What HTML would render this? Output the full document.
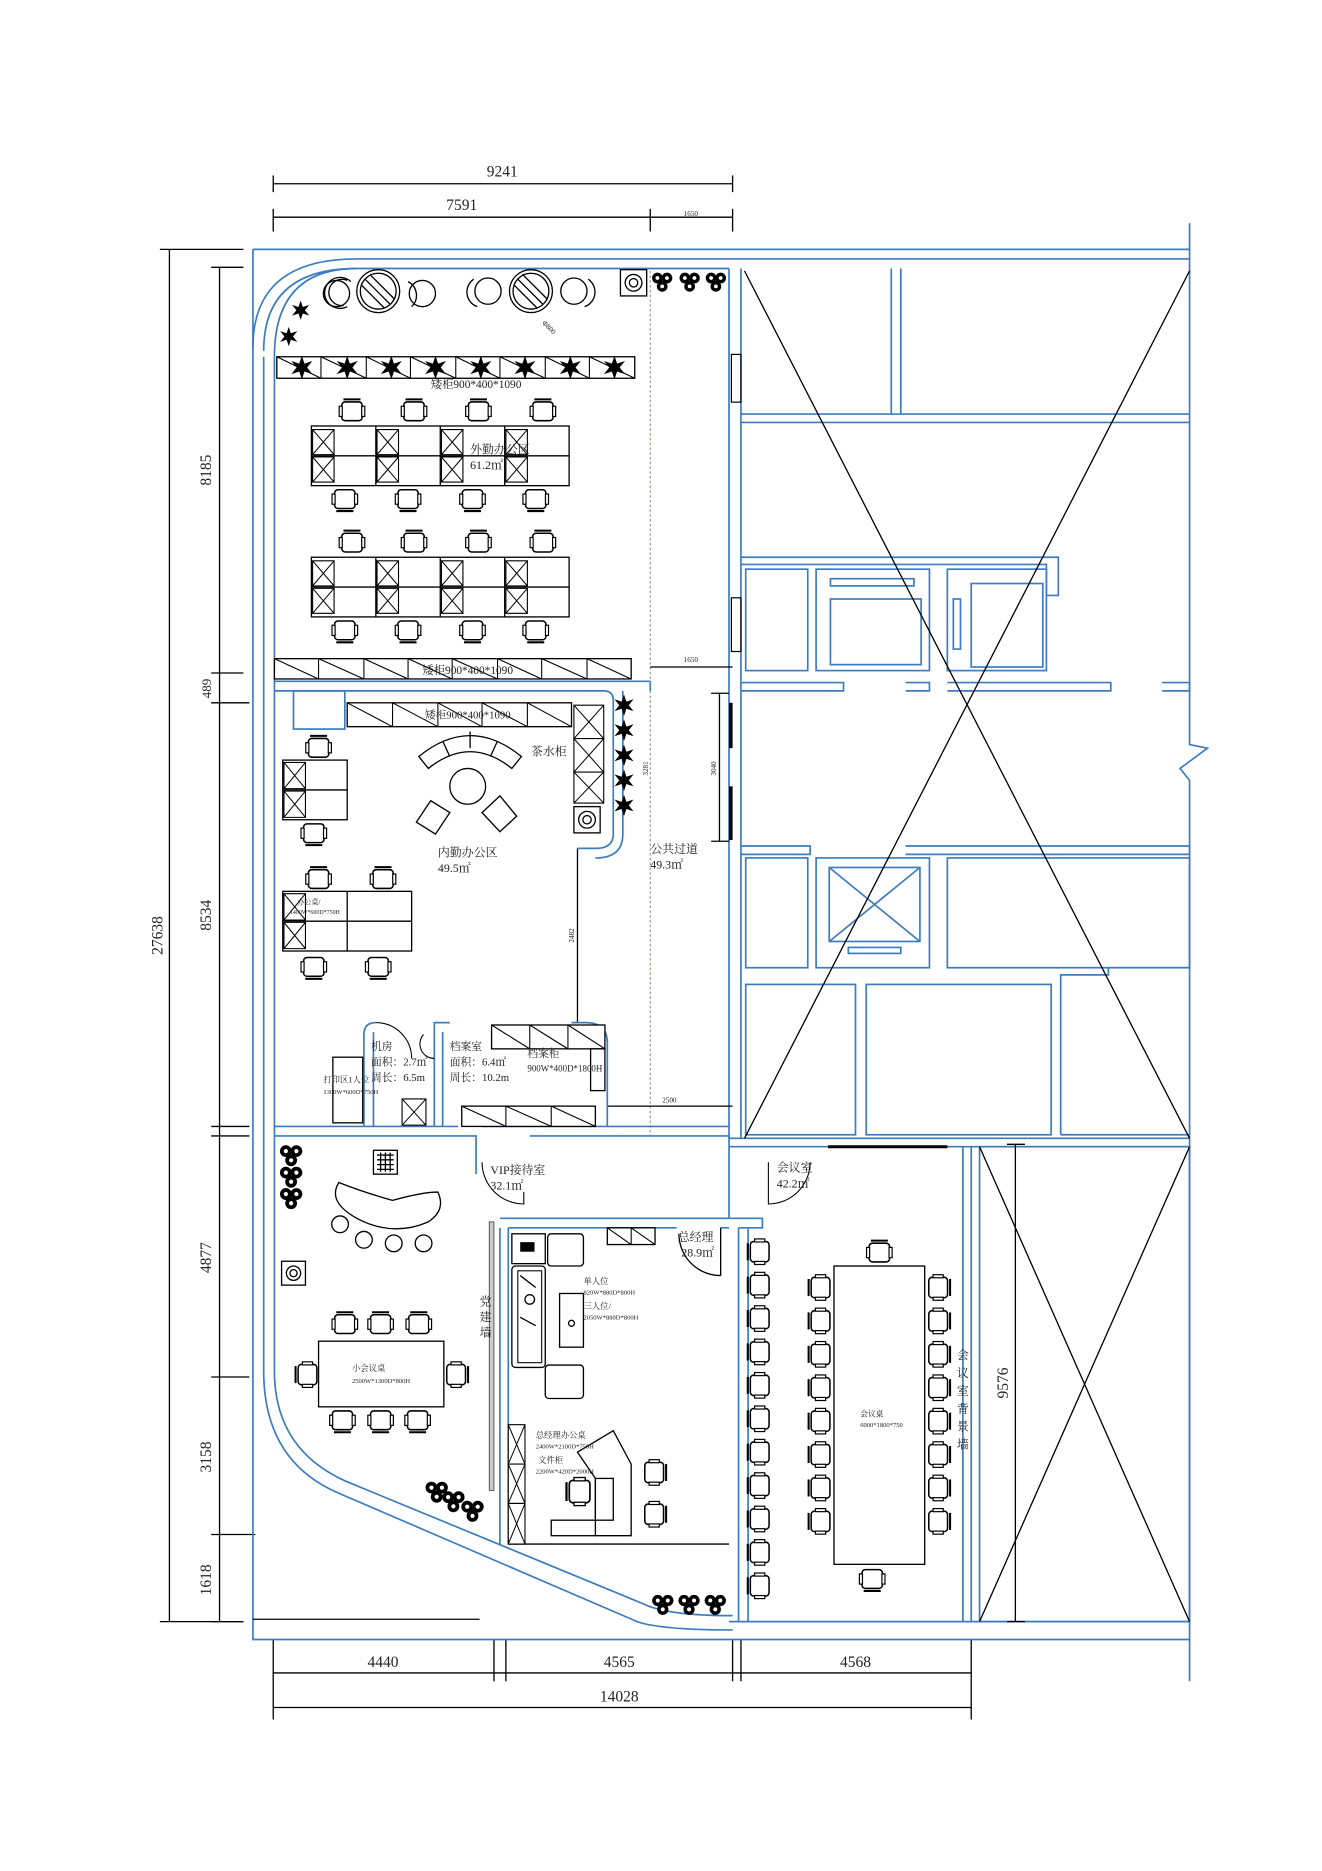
<!DOCTYPE html>
<html><head><meta charset="utf-8"><style>
html,body{margin:0;padding:0;background:#fff;}
svg{display:block;}
text{font-family:"Liberation Serif","Noto Serif CJK SC",serif;fill:#222;}
.b{fill:none;stroke:#3b7cc0;stroke-width:1.4;}
.k{fill:none;stroke:#000;stroke-width:1.1;}
.d{fill:none;stroke:#000;stroke-width:0.9;}
.f{fill:#fff;stroke:#000;stroke-width:1.1;}
</style></head><body>
<svg width="1322" height="1871" viewBox="1 1 1108 1568" preserveAspectRatio="none" xmlns="http://www.w3.org/2000/svg">
<defs>
<symbol id="ch" viewBox="-7 -7 14 14" overflow="visible">
<rect x="-6" y="-5" width="12" height="11" rx="2" fill="#fff" stroke="#000" stroke-width="0.9"/>
<rect x="-7.5" y="-2.5" width="1.8" height="6" fill="#fff" stroke="#000" stroke-width="0.7"/>
<rect x="5.7" y="-2.5" width="1.8" height="6" fill="#fff" stroke="#000" stroke-width="0.7"/>
<line x1="-5" y1="-6.5" x2="5" y2="-6.5" stroke="#000" stroke-width="1.2"/>
</symbol>
<symbol id="st" viewBox="-10 -10 20 20" overflow="visible">
<path d="M0,-9 L2,-3 L8,-5 L4,0 L8,5 L2,3 L0,9 L-2,3 L-8,5 L-4,0 L-8,-5 L-2,-3Z" fill="#000"/>
</symbol>
<symbol id="fl" viewBox="-10 -10 20 20" overflow="visible">
<circle cx="-4" cy="-3" r="4.5" fill="#000"/><circle cx="4" cy="-3" r="4.5" fill="#000"/><circle cx="0" cy="4" r="4.5" fill="#000"/>
<circle cx="-4" cy="-3" r="1.6" fill="#fff"/><circle cx="4" cy="-3" r="1.6" fill="#fff"/><circle cx="0" cy="4" r="1.6" fill="#fff"/>
</symbol>
<symbol id="xb" viewBox="0 0 10 10" preserveAspectRatio="none" overflow="visible">
<rect x="0" y="0" width="10" height="10" fill="#fff" stroke="#000" stroke-width="1.1" vector-effect="non-scaling-stroke"/>
<path d="M0,0L10,10M10,0L0,10" stroke="#000" stroke-width="1" vector-effect="non-scaling-stroke"/>
</symbol>
</defs>

<!-- dimensions top -->
<g class="k">
<line x1="230" y1="155" x2="615" y2="155"/><line x1="230" y1="148" x2="230" y2="162"/><line x1="615" y1="148" x2="615" y2="162"/>
<line x1="230" y1="183" x2="615" y2="183"/><line x1="230" y1="176" x2="230" y2="195"/><line x1="546" y1="176" x2="546" y2="195"/><line x1="615" y1="176" x2="615" y2="195"/>
</g>
<text x="422" y="149" font-size="13" text-anchor="middle">9241</text>
<text x="388" y="177" font-size="13" text-anchor="middle">7591</text>
<text x="580" y="182" font-size="6" text-anchor="middle">1650</text>

<!-- left dims -->
<g class="k">
<line x1="143" y1="210" x2="143" y2="1360"/><line x1="135" y1="210" x2="205" y2="210"/><line x1="135" y1="1360" x2="205" y2="1360"/>
<line x1="185" y1="225" x2="185" y2="1360"/>
<line x1="178" y1="225" x2="205" y2="225"/><line x1="178" y1="565" x2="205" y2="565"/><line x1="178" y1="590" x2="210" y2="590"/>
<line x1="178" y1="945" x2="210" y2="945"/><line x1="178" y1="953" x2="210" y2="953"/><line x1="178" y1="1155" x2="210" y2="1155"/>
<line x1="178" y1="1287" x2="215" y2="1287"/><line x1="178" y1="1360" x2="205" y2="1360"/>
</g>
<g font-size="13">
<text transform="translate(137,785) rotate(-90)" text-anchor="middle">27638</text>
<text transform="translate(178,395) rotate(-90)" text-anchor="middle">8185</text>
<text transform="translate(178,578) rotate(-90)" text-anchor="middle" font-size="11">489</text>
<text transform="translate(178,768) rotate(-90)" text-anchor="middle">8534</text>
<text transform="translate(178,1055) rotate(-90)" text-anchor="middle">4877</text>
<text transform="translate(178,1222) rotate(-90)" text-anchor="middle">3158</text>
<text transform="translate(178,1325) rotate(-90)" text-anchor="middle">1618</text>
</g>

<!-- bottom dims -->
<g class="k">
<line x1="230" y1="1403" x2="815" y2="1403"/>
<line x1="230" y1="1375" x2="230" y2="1442"/><line x1="415" y1="1375" x2="415" y2="1410"/><line x1="425" y1="1375" x2="425" y2="1410"/>
<line x1="615" y1="1375" x2="615" y2="1410"/><line x1="622" y1="1375" x2="622" y2="1410"/><line x1="815" y1="1375" x2="815" y2="1442"/>
<line x1="230" y1="1432" x2="815" y2="1432"/>
</g>
<text x="322" y="1398" font-size="13" text-anchor="middle">4440</text>
<text x="520" y="1398" font-size="13" text-anchor="middle">4565</text>
<text x="718" y="1398" font-size="13" text-anchor="middle">4568</text>
<text x="520" y="1427" font-size="13" text-anchor="middle">14028</text>

<!-- outer walls -->
<g class="b">
<path d="M213,210 L998,210 M213,210 L213,1375 L998,1375"/>
<path d="M213,292 Q213,218 300,218 L998,218"/>
<path d="M222,295 Q222,226 300,226"/>
<path d="M231,300 Q231,226 300,226 L612,226"/>
<path d="M998,188 L998,625 L1013,628 L990,645 L998,655 L998,1410"/>
<path d="M231,300 L231,1150 Q231,1215 290,1242 L540,1345 Q560,1355 615,1355"/>
<path d="M222,300 L222,1150 Q222,1225 284,1252 L535,1360 Q555,1367 615,1367"/>
</g>
<line x1="213" y1="1358" x2="403" y2="1358" class="k"/>

<!-- central column walls -->
<g class="b">
<path d="M612,226 L612,955 M622,226 L622,955"/>
<path d="M622,348 L998,348 M622,355 L998,355"/>
<path d="M748,226 L748,348 M756,226 L756,348"/>
<path d="M622,468 L888,468 L888,500 L878,500 L878,474 L622,474"/>
<rect x="626" y="478" width="52" height="85"/>
<rect x="685" y="478" width="95" height="85"/>
<rect x="795" y="478" width="83" height="85"/>
<rect x="697" y="486" width="70" height="6"/>
<rect x="697" y="503" width="76" height="55"/>
<rect x="800" y="503" width="6" height="42"/>
<rect x="815" y="490" width="60" height="70"/>
<path d="M622,573 L708,573 L708,580 L622,580 M760,573 L780,573 L780,580 L760,580 M795,573 L932,573 L932,580 L795,580 M975,573 L998,573 L998,580 L975,580"/>
<path d="M622,710 L680,710 L680,717 L622,717 M760,710 L998,710 L998,717 L760,717"/>
<rect x="626" y="720" width="52" height="92"/>
<rect x="685" y="720" width="95" height="92"/>
<rect x="696" y="728" width="76" height="62"/>
<path d="M696,728 L772,790 M772,728 L696,790"/>
<rect x="712" y="795" width="44" height="5"/>
<rect x="795" y="720" width="203" height="92"/>
<rect x="626" y="826" width="92" height="126"/>
<rect x="727" y="826" width="155" height="126"/>
<path d="M890,952 L890,818 L930,818 L930,812 L998,812 M890,952 L998,952"/>
<path d="M612,955 L998,955 M612,962 L998,962"/>
</g>
<line x1="695" y1="962" x2="795" y2="962" stroke="#000" stroke-width="2.5"/>
<!-- big X -->
<path class="k" d="M625,228 L998,955 M998,228 L625,955"/>
<g fill="#000">
<rect x="614" y="298" width="8" height="40" fill="none" stroke="#000"/>
<rect x="614" y="502" width="8" height="45" fill="none" stroke="#000"/>
<rect x="612" y="590" width="3" height="38"/>
<rect x="612" y="660" width="3" height="45"/>
</g>

<!-- lower right -->
<g class="b">
<rect x="822" y="962" width="176" height="398"/>
<path d="M808,962 L808,1360 M815,962 L815,1360"/>
<path d="M612,1360 L998,1360"/>
<path d="M620,1030 L620,1360 M628,1030 L628,1360"/>
<path d="M612,962 L612,1022 L570,1022 M620,1030 L640,1030 L640,1022 L612,1022"/>
</g>
<path class="k" d="M822,962 L998,1360 M998,962 L822,1360"/>
<g class="k"><line x1="852" y1="960" x2="852" y2="1360"/><line x1="845" y1="960" x2="860" y2="960"/><line x1="845" y1="1360" x2="860" y2="1360"/></g>
<text transform="translate(846,1160) rotate(-90)" font-size="13" text-anchor="middle">9576</text>

<!-- meeting room -->
<path class="d" d="M680,975 A35,35 0 0 1 645,1010 L645,975"/>
<text x="652" y="983" font-size="10">会议室</text><text x="652" y="996" font-size="10">42.2㎡</text>
<rect x="700" y="1062" width="76" height="250" class="f"/>
<text x="722" y="1188" font-size="6.5">会议桌</text><text x="722" y="1197" font-size="5.5">6000*1800*750</text>
<g font-size="10"><text x="803" y="1140">会</text><text x="803" y="1155">议</text><text x="803" y="1170">室</text><text x="803" y="1185">背</text><text x="803" y="1200">景</text><text x="803" y="1215">墙</text></g>

<!-- corridor -->
<line x1="546" y1="228" x2="546" y2="953" stroke="#998" stroke-width="1" stroke-dasharray="2,2"/>
<path d="M510,953 L546,953" stroke="#998" stroke-dasharray="2,2"/>
<g class="k">
<line x1="546" y1="560" x2="615" y2="560"/><line x1="604" y1="582" x2="604" y2="706"/><line x1="597" y1="582" x2="612" y2="582"/><line x1="597" y1="706" x2="612" y2="706"/>
<line x1="510" y1="928" x2="615" y2="928"/><line x1="485" y1="712" x2="485" y2="858"/>
</g>
<text x="580" y="556" font-size="6" text-anchor="middle">1650</text>
<text transform="translate(601,645) rotate(-90)" font-size="6" text-anchor="middle">3040</text>
<text x="562" y="925" font-size="6" text-anchor="middle">2500</text>
<text transform="translate(482,785) rotate(-90)" font-size="6" text-anchor="middle">2482</text>
<text transform="translate(544,645) rotate(-90)" font-size="6" text-anchor="middle">3281</text>
<text x="546" y="716" font-size="10">公共过道</text><text x="546" y="729" font-size="10">49.3㎡</text>

<!-- top area -->
<g class="k">
<circle cx="318" cy="245" r="18"/><circle cx="318" cy="245" r="15"/>
<path d="M307,235 L328,256 M311,231 L332,252 M304,240 L323,259" />
<circle cx="446" cy="245" r="18"/><circle cx="446" cy="245" r="15"/>
<path d="M435,235 L456,256 M439,231 L460,252 M432,240 L451,259"/>
<path d="M295,237 A13,13 0 1 0 292,258 M292,236 A11,11 0 1 0 289,257"/>
<circle cx="283" cy="247" r="11"/><circle cx="355" cy="247" r="11"/><circle cx="410" cy="245" r="11"/><circle cx="482" cy="245" r="11"/>
<path d="M343,237 A13,13 0 0 1 346,258 M398,235 A13,13 0 0 0 401,258 M494,235 A13,13 0 0 1 491,258"/>
<rect x="521" y="227" width="22" height="22"/><circle cx="532" cy="238" r="7"/><circle cx="532" cy="238" r="3.5"/>
</g>
<text x="455" y="272" font-size="6" transform="rotate(45,455,272)">Φ800</text>
<use href="#fl" x="546" y="227" width="20" height="20"/><use href="#fl" x="569" y="227" width="20" height="20"/><use href="#fl" x="591" y="227" width="20" height="20"/>
<use href="#st" x="244" y="252" width="18" height="18"/><use href="#st" x="234" y="274" width="18" height="18"/>
<rect x="233" y="300" width="300" height="18" class="f"/>
<g class="d">
<path d="M270,300V318M308,300V318M345,300V318M383,300V318M420,300V318M458,300V318M495,300V318"/>
<path d="M233,300L270,318M270,300L308,318M308,300L345,318M345,300L383,318M383,300L420,318M420,300L458,318M458,300L495,318M495,300L533,318"/>
</g>
<use href="#st" x="243" y="298" width="22" height="22"/><use href="#st" x="281" y="298" width="22" height="22"/><use href="#st" x="318" y="298" width="22" height="22"/><use href="#st" x="355" y="298" width="22" height="22"/><use href="#st" x="393" y="298" width="22" height="22"/><use href="#st" x="430" y="298" width="22" height="22"/><use href="#st" x="468" y="298" width="22" height="22"/><use href="#st" x="505" y="298" width="22" height="22"/>
<text x="400" y="326" font-size="9.5" text-anchor="middle">矮柜900*400*1090</text>

<!-- desks block 1 & 2 -->
<g id="db">
<rect x="262" y="358" width="216" height="50" class="f"/>
<path class="k" d="M262,383H478M316,358V408M370,358V408M424,358V408"/>
<use href="#xb" x="263" y="361" width="18" height="21"/><use href="#xb" x="263" y="384" width="18" height="21"/>
<use href="#xb" x="317" y="361" width="18" height="21"/><use href="#xb" x="317" y="384" width="18" height="21"/>
<use href="#xb" x="371" y="361" width="18" height="21"/><use href="#xb" x="371" y="384" width="18" height="21"/>
<use href="#xb" x="425" y="361" width="18" height="21"/><use href="#xb" x="425" y="384" width="18" height="21"/>
<use href="#ch" x="286" y="335" width="20" height="20"/><use href="#ch" x="338" y="335" width="20" height="20"/><use href="#ch" x="392" y="335" width="20" height="20"/><use href="#ch" x="446" y="335" width="20" height="20"/>
<use href="#ch" x="280" y="410" width="20" height="20" transform="rotate(180,290,420)"/><use href="#ch" x="333" y="410" width="20" height="20" transform="rotate(180,343,420)"/><use href="#ch" x="387" y="410" width="20" height="20" transform="rotate(180,397,420)"/><use href="#ch" x="440" y="410" width="20" height="20" transform="rotate(180,450,420)"/>
</g>
<use href="#db" y="110"/>
<text x="395" y="381" font-size="10">外勤办公区</text><text x="395" y="394" font-size="10">61.2㎡</text>

<rect x="231" y="553" width="299" height="17" class="f"/>
<g class="d"><path d="M268,553V570M306,553V570M343,553V570M380,553V570M418,553V570M455,553V570M493,553V570"/>
<path d="M231,553L268,570M268,553L306,570M306,553L343,570M343,553L380,570M380,553L418,570M418,553L455,570M455,553L493,570M493,553L530,570"/></g>
<text x="393" y="566" font-size="9.5" text-anchor="middle">矮柜900*400*1090</text>

<!-- inner office walls -->
<g class="b">
<path d="M231,572 L546,572 M231,580 L507,580 Q515,580 515,588 L515,700 Q515,712 500,712 L485,712 M546,572 L546,580 M523,580 L523,700 Q523,720 500,720"/>
<rect x="247" y="580" width="43" height="32"/>
<path d="M231,945 L385,945 M405,945 L612,945 M231,953 L400,953 L400,985 M445,953 L612,953 L612,962"/>
<path d="M306,945 L306,868 Q306,858 316,858 M314,945 L314,866 M365,945 L365,858 L378,858 M372,945 L372,866"/>
<path d="M510,945 L510,875 Q510,858 492,858 L480,858"/>
</g>
<rect x="292" y="590" width="188" height="20" class="f"/>
<g class="d"><path d="M330,590V610M368,590V610M405,590V610M443,590V610M292,590L330,610M330,590L368,610M368,590L405,610M405,590L443,610M443,590L480,610"/></g>
<text x="393" y="603" font-size="9" text-anchor="middle">矮柜900*400*1090</text>
<use href="#xb" x="482" y="592" width="25" height="28"/><use href="#xb" x="482" y="620" width="25" height="28"/><use href="#xb" x="482" y="648" width="25" height="26"/>
<g class="k"><rect x="482" y="677" width="22" height="22"/><circle cx="493" cy="688" r="7"/><circle cx="493" cy="688" r="3.5"/></g>
<use href="#st" x="514" y="582" width="20" height="20"/><use href="#st" x="514" y="603" width="20" height="20"/><use href="#st" x="514" y="624" width="20" height="20"/><use href="#st" x="514" y="645" width="20" height="20"/><use href="#st" x="514" y="666" width="20" height="20"/>
<text x="446" y="634" font-size="10">茶水柜</text>
<g class="k">
<path d="M352,635 Q395,600 438,635 L430,645 Q395,617 360,645 Z"/>
<path d="M372,622 L378,635 M395,614 V628 M418,622 L412,635"/>
<circle cx="393" cy="660" r="15"/>
<path d="M350,690 L362,672 L378,682 L366,700 Z"/><path d="M405,682 L420,668 L434,685 L420,698 Z"/>
</g>
<text x="368" y="719" font-size="10">内勤办公区</text><text x="368" y="732" font-size="10">49.5㎡</text>
<rect x="238" y="638" width="54" height="50" class="f"/><path class="k" d="M238,663H292"/>
<use href="#xb" x="239" y="640" width="18" height="22"/><use href="#xb" x="239" y="664" width="18" height="22"/>
<use href="#ch" x="258" y="617" width="20" height="20"/><use href="#ch" x="254" y="690" width="20" height="20" transform="rotate(180,264,700)"/>
<rect x="238" y="748" width="108" height="50" class="f"/><path class="k" d="M238,773H346M292,748V798"/>
<use href="#xb" x="239" y="750" width="18" height="22"/><use href="#xb" x="239" y="774" width="18" height="22"/>
<text x="250" y="759" font-size="6">办公桌/</text><text x="244" y="767" font-size="5">1400W*600D*750H</text>
<use href="#ch" x="258" y="727" width="20" height="20"/><use href="#ch" x="312" y="727" width="20" height="20"/>
<use href="#ch" x="254" y="802" width="20" height="20" transform="rotate(180,264,812)"/><use href="#ch" x="308" y="802" width="20" height="20" transform="rotate(180,318,812)"/>

<!-- small rooms -->
<path class="d" d="M316,858 A30,30 0 0 1 346,888 M356,868 A12,12 0 0 0 365,888"/>
<text x="312" y="881" font-size="9">机房</text><text x="312" y="894" font-size="9">面积：2.7㎡</text><text x="312" y="907" font-size="9">周长：6.5m</text>
<text x="378" y="881" font-size="9">档案室</text><text x="378" y="894" font-size="9">面积：6.4㎡</text><text x="378" y="907" font-size="9">周长：10.2m</text>
<rect x="413" y="860" width="95" height="20" class="f"/><path class="d" d="M445,860V880M477,860V880M413,860L445,880M445,860L477,880M477,860L508,880"/>
<rect x="496" y="880" width="12" height="35" class="f"/>
<text x="443" y="887" font-size="9">档案柜</text><text x="443" y="899" font-size="7.5">900W*400D*1800H</text>
<rect x="388" y="928" width="112" height="17" class="f"/><path class="d" d="M425,928V945M463,928V945M388,928L425,945M425,928L463,945M463,928L500,945"/>
<use href="#xb" x="338" y="922" width="20" height="22"/>
<rect x="280" y="887" width="25" height="55" class="f"/>
<text x="272" y="908" font-size="7">打印区1人位</text><text x="272" y="918" font-size="5.5">1300W*600D*750H</text>

<!-- VIP area -->
<use href="#fl" x="234" y="958" width="22" height="22"/><use href="#fl" x="234" y="976" width="22" height="22"/><use href="#fl" x="234" y="994" width="22" height="22"/>
<g class="k"><rect x="314" y="965" width="20" height="20"/><path d="M317,969H331M317,973H331M317,977H331M317,981H331M320,967V983M324,967V983M328,967V983"/></g>
<path class="k" d="M285,992 Q275,1008 300,1022 Q330,1038 360,1025 Q375,1015 368,1000 Q355,1000 330,1007 Q305,1000 285,992 Z"/>
<g class="k"><circle cx="286" cy="1027" r="7"/><circle cx="306" cy="1040" r="7"/><circle cx="331" cy="1043" r="7"/><circle cx="356" cy="1043" r="7"/></g>
<g class="k"><rect x="237" y="1058" width="20" height="20"/><circle cx="247" cy="1068" r="6"/><circle cx="247" cy="1068" r="3"/></g>
<path class="d" d="M405,975 A35,35 0 0 0 440,1010 L440,1000"/>
<text x="412" y="985" font-size="10">VIP接待室</text><text x="412" y="998" font-size="10">32.1㎡</text>
<rect x="268" y="1125" width="105" height="55" class="f"/>
<text x="296" y="1150" font-size="7">小会议桌</text><text x="296" y="1160" font-size="5.5">2500W*1300D*800H</text>
<use href="#ch" x="280" y="1100" width="20" height="20"/><use href="#ch" x="310" y="1100" width="20" height="20"/><use href="#ch" x="342" y="1100" width="20" height="20"/>
<use href="#ch" x="278" y="1182" width="20" height="20" transform="rotate(180,288,1192)"/><use href="#ch" x="310" y="1182" width="20" height="20" transform="rotate(180,320,1192)"/><use href="#ch" x="341" y="1182" width="20" height="20" transform="rotate(180,351,1192)"/>
<use href="#ch" x="248" y="1143" width="20" height="20" transform="rotate(-90,258,1153)"/><use href="#ch" x="374" y="1143" width="20" height="20" transform="rotate(90,384,1153)"/>
<use href="#fl" x="356" y="1240" width="22" height="22"/><use href="#fl" x="370" y="1248" width="22" height="22"/><use href="#fl" x="386" y="1256" width="22" height="22"/>
<use href="#fl" x="546" y="1335" width="21" height="21"/><use href="#fl" x="568" y="1335" width="21" height="21"/><use href="#fl" x="590" y="1335" width="21" height="21"/>

<!-- party wall & GM room -->
<rect x="411" y="1025" width="4" height="225" fill="#000" stroke="#000" stroke-width="0.5" fill-opacity="0.2"/>
<g font-size="10"><text x="403" y="1095">党</text><text x="403" y="1108">建</text><text x="403" y="1121">墙</text></g>
<g class="b">
<path d="M420,1030 L420,1295 M427,1030 L427,1295 M420,1022 L570,1022 M427,1030 L568,1030 M605,1030 L612,1030"/>
</g>
<path class="k" d="M427,1295 L612,1295 M605,1030 V1070 M605,1070 A35,35 0 0 1 570,1035"/>
<text x="569" y="1041" font-size="10">总经理</text><text x="572" y="1054" font-size="10">28.9㎡</text>
<rect x="430" y="1035" width="28" height="25" class="f"/><rect x="437" y="1042" width="12" height="8" fill="#000"/>
<rect x="460" y="1035" width="30" height="27" rx="3" class="f"/><rect x="458" y="1145" width="32" height="28" rx="3" class="f"/>
<rect x="430" y="1062" width="28" height="85" rx="3" class="f"/><rect x="435" y="1066" width="20" height="77" class="d"/>
<path class="k" d="M437,1070L450,1080M437,1105L450,1112"/><circle cx="445" cy="1090" r="4" class="k"/>
<rect x="470" y="1085" width="20" height="45" class="f"/><circle cx="480" cy="1110" r="2.5" class="k"/>
<rect x="510" y="1030" width="40" height="14" class="f"/><path class="d" d="M530,1030V1044M510,1030L530,1044M530,1030L550,1044"/>
<text x="490" y="1077" font-size="7">单人位</text><text x="490" y="1086" font-size="5.5">820W*880D*800H</text>
<text x="490" y="1098" font-size="7">三人位/</text><text x="490" y="1107" font-size="5.5">2050W*880D*800H</text>
<use href="#xb" x="427" y="1195" width="14" height="33"/><use href="#xb" x="427" y="1228" width="14" height="33"/><use href="#xb" x="427" y="1261" width="14" height="34"/>
<path class="f" d="M485,1218 L515,1200 L530,1228 L530,1288 L500,1288 L500,1240 Z"/>
<rect x="463" y="1275" width="37" height="13" class="f"/><rect x="500" y="1240" width="15" height="35" class="f"/>
<use href="#ch" x="475" y="1240" width="22" height="22" transform="rotate(-90,486,1251)"/>
<use href="#ch" x="540" y="1225" width="20" height="20" transform="rotate(90,550,1235)"/><use href="#ch" x="540" y="1260" width="20" height="20" transform="rotate(90,550,1270)"/>
<text x="450" y="1206" font-size="7">总经理办公桌</text><text x="450" y="1215" font-size="5.5">2400W*2100D*750H</text>
<text x="452" y="1227" font-size="7">文件柜</text><text x="450" y="1236" font-size="5.5">2200W*420D*2000H</text>

<!-- meeting chairs -->
<g>
<use href="#ch" x="627" y="1040" width="20" height="20" transform="rotate(-90,637,1050)"/><use href="#ch" x="627" y="1068" width="20" height="20" transform="rotate(-90,637,1078)"/><use href="#ch" x="627" y="1096" width="20" height="20" transform="rotate(-90,637,1106)"/><use href="#ch" x="627" y="1124" width="20" height="20" transform="rotate(-90,637,1134)"/><use href="#ch" x="627" y="1152" width="20" height="20" transform="rotate(-90,637,1162)"/><use href="#ch" x="627" y="1180" width="20" height="20" transform="rotate(-90,637,1190)"/><use href="#ch" x="627" y="1208" width="20" height="20" transform="rotate(-90,637,1218)"/><use href="#ch" x="627" y="1236" width="20" height="20" transform="rotate(-90,637,1246)"/><use href="#ch" x="627" y="1264" width="20" height="20" transform="rotate(-90,637,1274)"/><use href="#ch" x="627" y="1292" width="20" height="20" transform="rotate(-90,637,1302)"/><use href="#ch" x="627" y="1320" width="20" height="20" transform="rotate(-90,637,1330)"/>
<use href="#ch" x="678" y="1070" width="20" height="20" transform="rotate(-90,688,1080)"/><use href="#ch" x="678" y="1098" width="20" height="20" transform="rotate(-90,688,1108)"/><use href="#ch" x="678" y="1126" width="20" height="20" transform="rotate(-90,688,1136)"/><use href="#ch" x="678" y="1154" width="20" height="20" transform="rotate(-90,688,1164)"/><use href="#ch" x="678" y="1182" width="20" height="20" transform="rotate(-90,688,1192)"/><use href="#ch" x="678" y="1210" width="20" height="20" transform="rotate(-90,688,1220)"/><use href="#ch" x="678" y="1238" width="20" height="20" transform="rotate(-90,688,1248)"/><use href="#ch" x="678" y="1266" width="20" height="20" transform="rotate(-90,688,1276)"/>
<use href="#ch" x="778" y="1070" width="20" height="20" transform="rotate(90,788,1080)"/><use href="#ch" x="778" y="1098" width="20" height="20" transform="rotate(90,788,1108)"/><use href="#ch" x="778" y="1126" width="20" height="20" transform="rotate(90,788,1136)"/><use href="#ch" x="778" y="1154" width="20" height="20" transform="rotate(90,788,1164)"/><use href="#ch" x="778" y="1182" width="20" height="20" transform="rotate(90,788,1192)"/><use href="#ch" x="778" y="1210" width="20" height="20" transform="rotate(90,788,1220)"/><use href="#ch" x="778" y="1238" width="20" height="20" transform="rotate(90,788,1248)"/><use href="#ch" x="778" y="1266" width="20" height="20" transform="rotate(90,788,1276)"/>
<use href="#ch" x="728" y="1040" width="20" height="20"/><use href="#ch" x="722" y="1315" width="20" height="20" transform="rotate(180,732,1325)"/>
</g>
</svg>
</body></html>
